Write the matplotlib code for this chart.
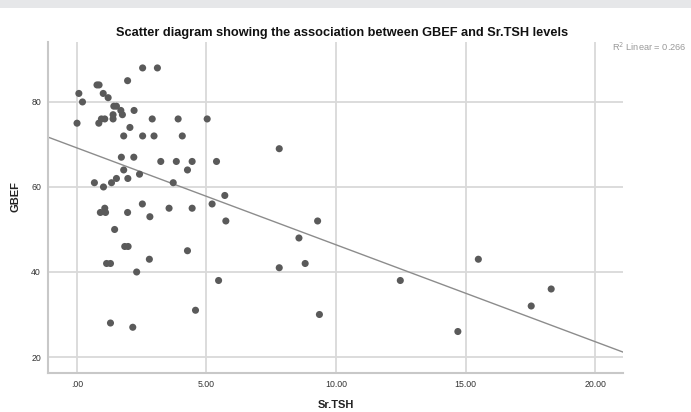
import matplotlib
matplotlib.use("Agg")
import matplotlib.pyplot as plt
from matplotlib.patches import Rectangle

# ---- data ----
sr_tsh = [2.54, 3.11, 1.96, 0.78, 0.86, 0.08, 1.02, 1.21, 0.22, 1.43,
          1.53, 1.70, 1.76, 2.21, 1.40, 1.40, 0.95, 1.08, 0.01, 0.85,
          2.05, 2.91, 3.91, 5.03, 1.81, 2.54, 2.98, 4.07, 1.72, 2.20,
          3.24, 3.84, 4.45, 5.39, 1.81, 4.27, 2.42, 1.97, 1.53, 1.34,
          0.68, 3.72, 1.03, 5.71, 2.53, 5.22, 3.56, 4.45, 1.08, 0.91,
          1.11, 1.96, 2.82, 5.75, 1.46, 1.85, 1.98, 4.27, 1.15, 1.30,
          2.80, 2.31, 5.47, 4.58, 1.30, 2.16,
          7.81, 7.81, 8.57, 8.81, 9.29, 9.36, 12.48, 15.49, 18.30, 17.53, 14.70]
gbef = [88, 88, 85, 84, 84, 82, 82, 81, 80, 79,
        79, 78, 77, 78, 77, 76, 76, 76, 75, 75,
        74, 76, 76, 76, 72, 72, 72, 72, 67, 67,
        66, 66, 66, 66, 64, 64, 63, 62, 62, 61,
        61, 61, 60, 58, 56, 56, 55, 55, 55, 54,
        54, 54, 53, 52, 50, 46, 46, 45, 42, 42,
        43, 40, 38, 31, 28, 27,
        69, 41, 48, 42, 52, 30, 38, 43, 36, 32, 26]

fit_intercept = 69.2
fit_slope = -2.28
r2_text = "R$^2$ Linear = 0.266"

x_ticks = [0, 5, 10, 15, 20]
x_tick_labels = [".00", "5.00", "10.00", "15.00", "20.00"]
y_ticks = [20, 40, 60, 80]
y_tick_labels = ["20", "40", "60", "80"]

title = "Scatter diagram showing the association between GBEF and Sr.TSH levels"
x_label = "Sr.TSH"
y_label = "GBEF"

# ---- figure ----
plt.rcParams['font.family'] = ['Liberation Sans', 'DejaVu Sans']
W, H = 691, 412
fig = plt.figure(figsize=(W / 100, H / 100), dpi=100)
fig.patch.set_facecolor("white")

# gray band at the top
fig.patches.append(Rectangle((0, 1 - 8 / H), 1, 8 / H, transform=fig.transFigure,
                             facecolor="#e6e7e9", edgecolor="none", zorder=0))

ax = fig.add_axes([48 / W, (H - 373) / H, 575 / W, 331 / H])
ax.set_xlim(-1.11, 21.07)
ax.set_ylim(16.24, 94.1)

ax.set_xticks(x_ticks)
ax.set_xticklabels(x_tick_labels)
ax.set_yticks(y_ticks)
ax.set_yticklabels(y_tick_labels)
ax.tick_params(length=0, labelsize=6.3, colors="#333333", pad=5)
ax.tick_params(axis="y", pad=5)

ax.grid(True, color="#d9d9d9", linewidth=1.3, zorder=1)
ax.set_axisbelow(True)
for s in ["top", "right"]:
    ax.spines[s].set_visible(False)
for s in ["left", "bottom"]:
    ax.spines[s].set_color("#c8c8c8")
    ax.spines[s].set_linewidth(1.5)

ax.scatter(sr_tsh, gbef, s=26, color="#5a5a5a", edgecolors="none", zorder=3)

x0, x1 = ax.get_xlim()
ax.plot([x0, x1], [fit_intercept + fit_slope * x0, fit_intercept + fit_slope * x1],
        color="#8c8c8c", linewidth=1.0, zorder=2)

fig.text(342 / W, 1 - 33 / H, title, ha="center", va="center",
         fontsize=9.2, fontweight="bold", color="#111111")
fig.text(336 / W, 1 - 405 / H, x_label, ha="center", va="center",
         fontsize=8, fontweight="bold", color="#222222")
fig.text(16 / W, 1 - 197 / H, y_label, ha="center", va="center", rotation=90,
         fontsize=8, fontweight="bold", color="#222222")
fig.text(612 / W, 1 - 47 / H, r2_text, ha="left", va="center",
         fontsize=6.7, color="#9a9a9a")

fig.savefig("out.png", dpi=100)
